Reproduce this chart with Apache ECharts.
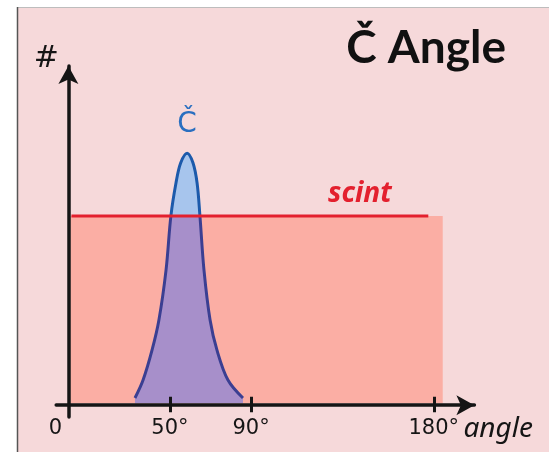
<!DOCTYPE html>
<html>
<head>
<meta charset="utf-8">
<script src="https://cdn.jsdelivr.net/npm/echarts@6/dist/echarts.min.js"></script>
<style>
  html, body { margin: 0; padding: 0; background: #ffffff; }
  #chart { width: 549px; height: 452px; }
</style>
</head>
<body>
<div id="chart"></div>
<script>
// ---- data (angles in degrees, counts in arbitrary units) ----
const tickAngles = [50, 90, 180];
const labelAngles = [0, 50, 90, 180];
const peakAngles = [32.8, 36.8, 41.2, 44.6, 48.1, 50.5, 53.0, 55.3, 58.5, 61.4, 63.4, 64.8, 66.8, 69.8, 73.2, 78.6, 86.0];
const peakCounts = [2.1, 7.4, 16.2, 25.1, 39.8, 55.8, 65.5, 71.4, 74.3, 71.4, 65.5, 55.8, 39.8, 25.1, 16.2, 7.4, 2.1];
const peakLabelIndex = 8;
const scintLevel = 55.8;
const scintFillAngles = [0.9, 184.4];
const scintLineAngles = [1.5, 143.6, 177.3];
const scintLabelIndex = 1;
const fillBase = 0.52; // fills stop just above the drawn x axis line

const pairs = (xs, ys) => xs.map((x, i) => [x, Array.isArray(ys) ? ys[i] : ys]);

const chart = echarts.init(document.getElementById('chart'), null, { renderer: 'canvas' });

const option = {
  backgroundColor: '#ffffff',
  animation: false,
  title: {
    text: 'Č Angle',
    right: 38,
    top: 20,
    textStyle: { fontFamily: 'Lato', fontWeight: 'bold', fontSize: 46, color: '#111111' }
  },
  graphic: [
    { type: 'rect', z: -100, shape: { x: 17, y: 7, width: 532, height: 445 }, style: { fill: '#f6d9da' } },
    { type: 'line', z: -99, shape: { x1: 17, y1: 7.5, x2: 549, y2: 7.5 }, style: { stroke: '#bdbdbd', lineWidth: 1 } },
    { type: 'line', z: -99, shape: { x1: 17.5, y1: 7, x2: 17.5, y2: 452 }, style: { stroke: '#555555', lineWidth: 1.5 } }
  ],
  grid: { left: 56.2, right: 74.6, top: 66, bottom: 35, containLabel: false },
  xAxis: [
    {
      type: 'value', min: -6, max: 200, position: 'bottom', z: 10,
      name: 'angle', nameLocation: 'end', nameGap: -11, nameMoveOverlap: false,
      nameTextStyle: { fontFamily: 'Noto Sans', fontStyle: 'italic', fontSize: 28, color: '#151515', verticalAlign: 'top', padding: [10, 0, 0, 0] },
      axisLine: { onZero: true, symbol: ['none', 'arrow'], symbolSize: [15, 18], lineStyle: { color: '#151515', width: 3.5 } },
      axisTick: { show: true, customValues: tickAngles, length: 7, lineStyle: { color: '#151515', width: 3 } },
      axisLabel: {
        customValues: labelAngles, margin: 1, fontFamily: 'DejaVu Sans', fontSize: 21, color: '#151515',
        formatter: v => v === 0 ? '{z|0}' : v + '°',
        rich: { z: { fontFamily: 'DejaVu Sans', fontSize: 21, color: '#151515', padding: [0, 26, 0, 0] } }
      },
      splitLine: { show: false }
    },
    {
      type: 'value', min: -6, max: 200, position: 'bottom', offset: -12.2, z: 10,
      axisLine: { show: false, onZero: false },
      axisTick: { show: true, inside: true, customValues: tickAngles, length: 8, lineStyle: { color: '#151515', width: 3 } },
      axisLabel: { show: false },
      splitLine: { show: false }
    }
  ],
  yAxis: {
    type: 'value', min: -3.5, max: 100, z: 10,
    name: '#', nameLocation: 'end', nameGap: -8, nameMoveOverlap: false,
    nameTextStyle: { fontFamily: 'DejaVu Sans', fontSize: 30, color: '#151515', padding: [0, 44, 0, 0] },
    axisLine: { onZero: true, symbol: ['none', 'arrow'], symbolSize: [15, 18], lineStyle: { color: '#151515', width: 3.5 } },
    axisTick: { show: false },
    axisLabel: { show: false },
    splitLine: { show: false }
  },
  visualMap: [
    { type: 'piecewise', show: false, seriesIndex: 1, dimension: 1,
      pieces: [{ gte: -10, lt: scintLevel, color: '#a78fca' }, { gte: scintLevel, lte: 200, color: '#a7c5ed' }] },
    { type: 'piecewise', show: false, seriesIndex: 2, dimension: 1,
      pieces: [{ gte: -10, lt: scintLevel, color: '#3b3f92' }, { gte: scintLevel, lte: 200, color: '#1c5aab' }] }
  ],
  series: [
    {
      name: 'scint fill', type: 'line', z: 1, silent: true,
      data: pairs(scintFillAngles, scintLevel),
      symbol: 'none', lineStyle: { width: 0 },
      areaStyle: { color: '#fbaea4', opacity: 1, origin: fillBase }
    },
    {
      name: 'Č fill', type: 'line', z: 2, silent: true, smooth: 0.35,
      data: pairs(peakAngles, peakCounts),
      symbol: 'none', lineStyle: { width: 0 },
      areaStyle: { opacity: 1, origin: fillBase }
    },
    {
      name: 'Č', type: 'line', z: 3, silent: true, smooth: 0.35,
      data: pairs(peakAngles, peakCounts).map((p, i) => i === peakLabelIndex ? {
        value: p,
        label: { show: true, formatter: 'Č', position: 'top', distance: 14, color: '#2a6fc0', fontFamily: 'DejaVu Sans', fontSize: 28 }
      } : p),
      showSymbol: true, symbol: 'circle', symbolSize: 0,
      lineStyle: { width: 3 }
    },
    {
      name: 'scint', type: 'line', z: 4, silent: true,
      data: pairs(scintLineAngles, scintLevel).map((p, i) => i === scintLabelIndex ? {
        value: p,
        label: { show: true, formatter: 'scint', position: 'top', distance: 8, color: '#e3202e', fontFamily: 'Noto Sans', fontStyle: 'italic', fontWeight: 'bold', fontSize: 28 }
      } : p),
      showSymbol: true, symbol: 'circle', symbolSize: 0,
      itemStyle: { color: '#e3202e' },
      lineStyle: { color: '#e3202e', width: 3 }
    }
  ]
};
chart.setOption(option);
</script>
</body>
</html>
